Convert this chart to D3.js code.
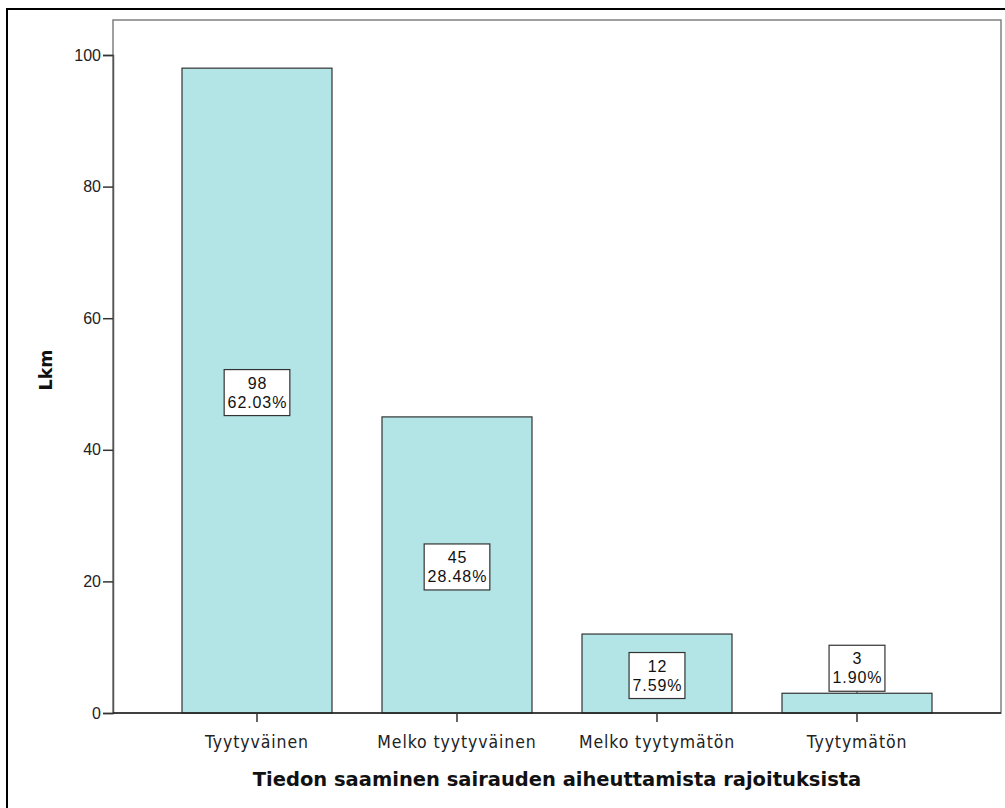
<!DOCTYPE html>
<html>
<head>
<meta charset="utf-8">
<script src="https://cdn.jsdelivr.net/npm/d3@7"></script>
<style>
  html, body { margin: 0; padding: 0; background: #fff; }
  svg { display: block; }
</style>
</head>
<body>
<svg id="chart" width="1005" height="808"></svg>
<script>
// Satisfaction with information on limitations caused by illness
const categories = ["Tyytyväinen", "Melko tyytyväinen", "Melko tyytymätön", "Tyytymätön"];
const counts = [98, 45, 12, 3];
const percents = ["62.03%", "28.48%", "7.59%", "1.90%"];
const yTicks = [0, 20, 40, 60, 80, 100];

const svg = d3.select("#chart");

// outer frame
svg.append("rect")
  .attr("x", 7).attr("y", 9).attr("width", 1010).attr("height", 820)
  .attr("fill", "none").attr("stroke", "#000").attr("stroke-width", 2);

const plot = { left: 113, top: 20, right: 1001, bottom: 713 };

// plot frame
svg.append("rect")
  .attr("x", plot.left).attr("y", plot.top)
  .attr("width", plot.right - plot.left).attr("height", plot.bottom - plot.top)
  .attr("fill", "none").attr("stroke", "#808080").attr("stroke-width", 1.5);

const x = d3.scaleBand().domain(categories).range([157, 957]).paddingInner(0.25).paddingOuter(0.125);
const y = d3.scaleLinear().domain([0, 100]).range([713, 55]);

// bars
svg.append("g").selectAll("rect").data(counts).join("rect")
  .attr("x", (d, i) => x(categories[i]))
  .attr("y", d => y(d))
  .attr("width", x.bandwidth())
  .attr("height", d => y(0) - y(d))
  .attr("fill", "#b3e5e6")
  .attr("stroke", "#333")
  .attr("stroke-width", 1.2);

// y axis
const yAxis = svg.append("g")
  .attr("transform", `translate(${plot.left},0)`)
  .call(d3.axisLeft(y).tickValues(yTicks).tickSize(10).tickPadding(2));
yAxis.select(".domain").attr("stroke", "#555").attr("stroke-width", 1.5);
yAxis.selectAll(".tick line").attr("stroke", "#333").attr("stroke-width", 1.5);
yAxis.selectAll(".tick text")
  .attr("font-family", "'Liberation Sans', Arial, sans-serif")
  .attr("font-size", 16).attr("fill", "#222");

// x axis
const xAxis = svg.append("g")
  .attr("transform", `translate(0,${plot.bottom})`)
  .call(d3.axisBottom(x).tickSize(9).tickPadding(14));
xAxis.select(".domain").attr("stroke", "#222").attr("stroke-width", 1.5).attr("d", `M${plot.left},0H${plot.right}`);
xAxis.selectAll(".tick line").attr("stroke", "#333").attr("stroke-width", 1.5);
xAxis.selectAll(".tick text")
  .attr("font-family", "'DejaVu Sans Condensed', 'DejaVu Sans', sans-serif")
  .attr("font-size", 17.5).attr("letter-spacing", 0.9).attr("fill", "#222");

// value labels
const labelFont = "'Liberation Sans', Arial, sans-serif";
const labels = svg.append("g");
counts.forEach((v, i) => {
  const cx = x(categories[i]) + x.bandwidth() / 2;
  const barTop = y(v);
  const barMid = (barTop + y(0)) / 2;
  const boxH = 46;
  const g = labels.append("g");
  const t1 = g.append("text").text(v);
  const t2 = g.append("text").text(percents[i]);
  [t1, t2].forEach(t => t.attr("font-family", labelFont).attr("font-size", 16)
    .attr("letter-spacing", 0.9).attr("text-anchor", "middle").attr("fill", "#111"));
  const w = Math.max(t1.node().getComputedTextLength(), t2.node().getComputedTextLength()) + 6;
  let cy;
  if (y(0) - barTop > boxH + 4) {
    cy = barMid + 2;
  } else {
    cy = barTop - 2 - boxH / 2;
    g.append("line").attr("x1", cx).attr("x2", cx)
      .attr("y1", cy + boxH / 2).attr("y2", barTop)
      .attr("stroke", "#333").attr("stroke-width", 1);
  }
  g.insert("rect", "text")
    .attr("x", cx - w / 2).attr("y", cy - boxH / 2)
    .attr("width", w).attr("height", boxH)
    .attr("fill", "#fff").attr("stroke", "#333").attr("stroke-width", 1.2);
  t1.attr("x", cx + 0.45).attr("y", cy - 4);
  t2.attr("x", cx + 0.45).attr("y", cy + 15);
});

// axis titles
svg.append("text")
  .attr("x", 557).attr("y", 786)
  .attr("text-anchor", "middle")
  .attr("font-family", "'DejaVu Sans', sans-serif")
  .attr("font-weight", "bold").attr("font-size", 19.5).attr("fill", "#111")
  .text("Tiedon saaminen sairauden aiheuttamista rajoituksista");

svg.append("text")
  .attr("transform", "translate(52,370) rotate(-90)")
  .attr("text-anchor", "middle")
  .attr("font-family", "'DejaVu Sans', sans-serif")
  .attr("font-weight", "bold").attr("font-size", 17.5).attr("fill", "#111")
  .text("Lkm");
</script>
</body>
</html>
